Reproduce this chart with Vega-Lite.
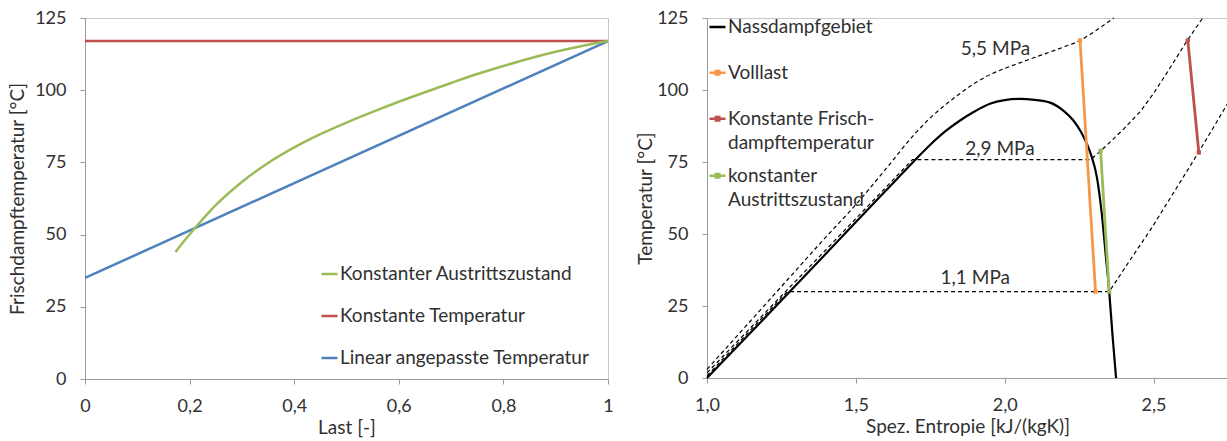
{
  "$schema": "https://vega.github.io/schema/vega-lite/v6.json",
  "padding": {"left": 8, "top": 8, "right": 0, "bottom": 0},
  "background": "white",
  "spacing": 22,
  "config": {
    "font": "Lato",
    "view": {"stroke": "#C8C8C8", "strokeWidth": 1},
    "axis": {
      "grid": false,
      "labelFlush": false,
      "domainColor": "#9A9A9A",
      "tickColor": "#9A9A9A",
      "tickSize": 5,
      "labelFontSize": 18,
      "labelColor": "#303030",
      "labelPadding": 14,
      "titleFontSize": 19,
      "titleFontWeight": "normal",
      "titleColor": "#303030"
    },
    "legend": {"labelFont": "Lato", "labelFontSize": 19, "labelColor": "#303030", "labelLimit": 400}
  },
  "datasets": {
    "left": [
      {"series": "Konstante Temperatur", "last": 0, "temp": 117},
      {"series": "Konstante Temperatur", "last": 1, "temp": 117},
      {"series": "Linear angepasste Temperatur", "last": 0, "temp": 35},
      {"series": "Linear angepasste Temperatur", "last": 1, "temp": 117},
      {"series": "Konstanter Austrittszustand", "last": 0.173, "temp": 44},
      {"series": "Konstanter Austrittszustand", "last": 0.19, "temp": 47.9},
      {"series": "Konstanter Austrittszustand", "last": 0.21, "temp": 52.2},
      {"series": "Konstanter Austrittszustand", "last": 0.25, "temp": 60.2},
      {"series": "Konstanter Austrittszustand", "last": 0.3, "temp": 68.2},
      {"series": "Konstanter Austrittszustand", "last": 0.35, "temp": 74.8},
      {"series": "Konstanter Austrittszustand", "last": 0.4, "temp": 80.2},
      {"series": "Konstanter Austrittszustand", "last": 0.45, "temp": 84.8},
      {"series": "Konstanter Austrittszustand", "last": 0.5, "temp": 88.8},
      {"series": "Konstanter Austrittszustand", "last": 0.55, "temp": 92.5},
      {"series": "Konstanter Austrittszustand", "last": 0.6, "temp": 96},
      {"series": "Konstanter Austrittszustand", "last": 0.65, "temp": 99.3},
      {"series": "Konstanter Austrittszustand", "last": 0.7, "temp": 102.5},
      {"series": "Konstanter Austrittszustand", "last": 0.75, "temp": 105.6},
      {"series": "Konstanter Austrittszustand", "last": 0.8, "temp": 108.4},
      {"series": "Konstanter Austrittszustand", "last": 0.85, "temp": 111},
      {"series": "Konstanter Austrittszustand", "last": 0.9, "temp": 113.3},
      {"series": "Konstanter Austrittszustand", "last": 0.95, "temp": 115.3},
      {"series": "Konstanter Austrittszustand", "last": 1, "temp": 117}
    ],
    "sat": [
      {"curve": "Nassdampfgebiet", "s": 1.0, "T": 0},
      {"curve": "Nassdampfgebiet", "s": 1.2, "T": 21.5},
      {"curve": "Nassdampfgebiet", "s": 1.4, "T": 43.2},
      {"curve": "Nassdampfgebiet", "s": 1.6, "T": 65},
      {"curve": "Nassdampfgebiet", "s": 1.7, "T": 75.8},
      {"curve": "Nassdampfgebiet", "s": 1.75, "T": 81},
      {"curve": "Nassdampfgebiet", "s": 1.8, "T": 85.6},
      {"curve": "Nassdampfgebiet", "s": 1.85, "T": 89.4},
      {"curve": "Nassdampfgebiet", "s": 1.9, "T": 92.6},
      {"curve": "Nassdampfgebiet", "s": 1.95, "T": 95.2},
      {"curve": "Nassdampfgebiet", "s": 2.0, "T": 96.5},
      {"curve": "Nassdampfgebiet", "s": 2.05, "T": 96.9},
      {"curve": "Nassdampfgebiet", "s": 2.1, "T": 96.6},
      {"curve": "Nassdampfgebiet", "s": 2.15, "T": 95.7},
      {"curve": "Nassdampfgebiet", "s": 2.2, "T": 92.6},
      {"curve": "Nassdampfgebiet", "s": 2.23, "T": 89.5},
      {"curve": "Nassdampfgebiet", "s": 2.255, "T": 85.7},
      {"curve": "Nassdampfgebiet", "s": 2.275, "T": 81.5},
      {"curve": "Nassdampfgebiet", "s": 2.29, "T": 77.5},
      {"curve": "Nassdampfgebiet", "s": 2.31, "T": 69.5},
      {"curve": "Nassdampfgebiet", "s": 2.325, "T": 58},
      {"curve": "Nassdampfgebiet", "s": 2.34, "T": 42},
      {"curve": "Nassdampfgebiet", "s": 2.351, "T": 30},
      {"curve": "Nassdampfgebiet", "s": 2.362, "T": 15},
      {"curve": "Nassdampfgebiet", "s": 2.374, "T": 0}
    ],
    "iso": [
      {"p": "1,1 MPa", "s": 1.0, "T": 0.8},
      {"p": "1,1 MPa", "s": 1.27, "T": 30},
      {"p": "1,1 MPa", "s": 2.351, "T": 30},
      {"p": "1,1 MPa", "s": 2.42, "T": 40.8},
      {"p": "1,1 MPa", "s": 2.49, "T": 51.5},
      {"p": "1,1 MPa", "s": 2.57, "T": 64.8},
      {"p": "1,1 MPa", "s": 2.652, "T": 78.5},
      {"p": "1,1 MPa", "s": 2.75, "T": 95.5},
      {"p": "2,9 MPa", "s": 1.0, "T": 1.8},
      {"p": "2,9 MPa", "s": 1.35, "T": 39.2},
      {"p": "2,9 MPa", "s": 1.69, "T": 75.8},
      {"p": "2,9 MPa", "s": 2.288, "T": 75.8},
      {"p": "2,9 MPa", "s": 2.322, "T": 78.8},
      {"p": "2,9 MPa", "s": 2.36, "T": 82.5},
      {"p": "2,9 MPa", "s": 2.4, "T": 86.5},
      {"p": "2,9 MPa", "s": 2.456, "T": 92.6},
      {"p": "2,9 MPa", "s": 2.5, "T": 98.8},
      {"p": "2,9 MPa", "s": 2.55, "T": 106.8},
      {"p": "2,9 MPa", "s": 2.613, "T": 117.2},
      {"p": "2,9 MPa", "s": 2.665, "T": 125}
    ],
    "iso55": [
      {"p": "5,5 MPa", "s": 1.0, "T": 3},
      {"p": "5,5 MPa", "s": 1.2, "T": 26},
      {"p": "5,5 MPa", "s": 1.4, "T": 49},
      {"p": "5,5 MPa", "s": 1.5, "T": 60.2},
      {"p": "5,5 MPa", "s": 1.6, "T": 72.5},
      {"p": "5,5 MPa", "s": 1.7, "T": 85},
      {"p": "5,5 MPa", "s": 1.75, "T": 90.3},
      {"p": "5,5 MPa", "s": 1.8, "T": 94.8},
      {"p": "5,5 MPa", "s": 1.85, "T": 98.8},
      {"p": "5,5 MPa", "s": 1.9, "T": 102.4},
      {"p": "5,5 MPa", "s": 1.95, "T": 105.3},
      {"p": "5,5 MPa", "s": 2.0, "T": 107.5},
      {"p": "5,5 MPa", "s": 2.05, "T": 109.4},
      {"p": "5,5 MPa", "s": 2.1, "T": 111.3},
      {"p": "5,5 MPa", "s": 2.15, "T": 113.1},
      {"p": "5,5 MPa", "s": 2.2, "T": 115},
      {"p": "5,5 MPa", "s": 2.253, "T": 117.2},
      {"p": "5,5 MPa", "s": 2.3, "T": 120.2},
      {"p": "5,5 MPa", "s": 2.366, "T": 125}
    ],
    "proc": [
      {"series": "Volllast", "s": 2.253, "T": 117.2},
      {"series": "Volllast", "s": 2.305, "T": 30},
      {"series": "Konstante Frischdampftemperatur", "s": 2.615, "T": 117.2},
      {"series": "Konstante Frischdampftemperatur", "s": 2.652, "T": 78.3},
      {"series": "konstanter Austrittszustand", "s": 2.322, "T": 78.9},
      {"series": "konstanter Austrittszustand", "s": 2.351, "T": 30}
    ],
    "labels": [
      {"text": "5,5 MPa", "s": 1.969, "T": 114.3},
      {"text": "2,9 MPa", "s": 1.984, "T": 79.5},
      {"text": "1,1 MPa", "s": 1.901, "T": 34.7}
    ]
  },
  "resolve": {"scale": {"color": "independent", "stroke": "independent", "fill": "independent", "x": "independent", "y": "independent"}},
  "hconcat": [
    {
      "width": 523,
      "height": 361,
      "data": {"name": "left"},
      "mark": {"type": "line", "strokeWidth": 2.5, "interpolate": "monotone"},
      "encoding": {
        "x": {
          "field": "last", "type": "quantitative",
          "scale": {"domain": [0, 1], "nice": false},
          "axis": {"title": "Last [-]", "values": [0, 0.2, 0.4, 0.6, 0.8, 1], "format": "~g", "labelExpr": "replace(datum.label, '.', ',')", "labelPadding": 13, "titlePadding": 3}
        },
        "y": {
          "field": "temp", "type": "quantitative",
          "scale": {"domain": [0, 125], "nice": false},
          "axis": {"title": "Frischdampftemperatur [°C]", "values": [0, 25, 50, 75, 100, 125], "titlePadding": 7}
        },
        "color": {
          "field": "series", "type": "nominal",
          "scale": {
            "domain": ["Konstanter Austrittszustand", "Konstante Temperatur", "Linear angepasste Temperatur"],
            "range": ["#9BBB59", "#C0504D", "#4F81BD"]
          },
          "legend": {
            "title": null, "orient": "none", "legendX": 235, "legendY": 235,
            "symbolType": "stroke", "symbolSize": 256, "symbolStrokeWidth": 2.5,
            "clipHeight": 42, "rowPadding": 0, "labelOffset": 1, "padding": 0
          }
        }
      }
    },
    {
      "width": 521,
      "height": 360,
      "layer": [
        {
          "data": {"name": "iso"},
          "mark": {"type": "line", "color": "#000000", "strokeWidth": 1.2, "strokeDash": [4, 3]},
          "encoding": {
            "x": {
              "field": "s", "type": "quantitative",
              "scale": {"domain": [1, 2.75], "nice": false, "zero": false},
              "axis": {"title": "Spez. Entropie [kJ/(kgK)]", "values": [1, 1.5, 2, 2.5], "format": ".1f", "labelExpr": "replace(datum.label, '.', ',')", "labelPadding": 13, "titlePadding": 3}
            },
            "y": {
              "field": "T", "type": "quantitative",
              "scale": {"domain": [0, 125], "nice": false},
              "axis": {"title": "Temperatur [°C]", "values": [0, 25, 50, 75, 100, 125], "titlePadding": 1}
            },
            "detail": {"field": "p"}
          }
        },
        {
          "data": {"name": "iso55"},
          "mark": {"type": "line", "color": "#000000", "strokeWidth": 1.2, "strokeDash": [4, 3], "interpolate": "monotone"},
          "encoding": {
            "x": {"field": "s", "type": "quantitative"},
            "y": {"field": "T", "type": "quantitative"}
          }
        },
        {
          "data": {"name": "sat"},
          "mark": {"type": "line", "strokeWidth": 2.2, "interpolate": "monotone"},
          "encoding": {
            "x": {"field": "s", "type": "quantitative"},
            "y": {"field": "T", "type": "quantitative"},
            "stroke": {
              "field": "curve", "type": "nominal",
              "scale": {"domain": ["Nassdampfgebiet"], "range": ["#000000"]},
              "legend": {
                "title": null, "orient": "none", "legendX": 1, "legendY": -1,
                "symbolType": "stroke", "symbolSize": 256, "symbolStrokeWidth": 2.5,
                "clipHeight": 20, "rowPadding": 0, "labelOffset": 1, "padding": 0
              }
            }
          }
        },
        {
          "data": {"name": "proc"},
          "mark": {"type": "line", "strokeWidth": 2.8},
          "encoding": {
            "x": {"field": "s", "type": "quantitative"},
            "y": {"field": "T", "type": "quantitative"},
            "color": {
              "field": "series", "type": "nominal",
              "scale": {
                "domain": ["Volllast", "Konstante Frischdampftemperatur", "konstanter Austrittszustand"],
                "range": ["#F79646", "#C0504D", "#9BBB59"]
              },
              "legend": {
                "title": null, "orient": "none", "legendX": 1, "legendY": 32,
                "symbolType": "M-1,0H1M-0.22,-0.22H0.22V0.22H-0.22Z", "symbolSize": 256, "symbolStrokeWidth": 2.5,
                "clipHeight": 45.5, "rowPadding": 0, "labelOffset": 1, "padding": 0,
                "labelBaseline": "alphabetic",
                "labelExpr": "datum.label == 'Konstante Frischdampftemperatur' ? ['Konstante Frisch-', 'dampftemperatur'] : datum.label == 'konstanter Austrittszustand' ? ['konstanter', 'Austrittszustand'] : datum.label",
                "encode": {"labels": {"update": {"dy": {"value": 6}, "lineHeight": {"value": 24}}}}
              }
            }
          }
        },
        {
          "data": {"name": "proc"},
          "mark": {"type": "point", "shape": "square", "filled": true, "size": 18, "opacity": 1},
          "encoding": {
            "x": {"field": "s", "type": "quantitative"},
            "y": {"field": "T", "type": "quantitative"},
            "fill": {
              "field": "series", "type": "nominal",
              "scale": {
                "domain": ["Volllast", "Konstante Frischdampftemperatur", "konstanter Austrittszustand"],
                "range": ["#F79646", "#C0504D", "#9BBB59"]
              },
              "legend": null
            }
          }
        },
        {
          "data": {"name": "labels"},
          "mark": {"type": "text", "fontSize": 19, "color": "#303030"},
          "encoding": {
            "x": {"field": "s", "type": "quantitative"},
            "y": {"field": "T", "type": "quantitative"},
            "text": {"field": "text"}
          }
        }
      ]
    }
  ]
}
